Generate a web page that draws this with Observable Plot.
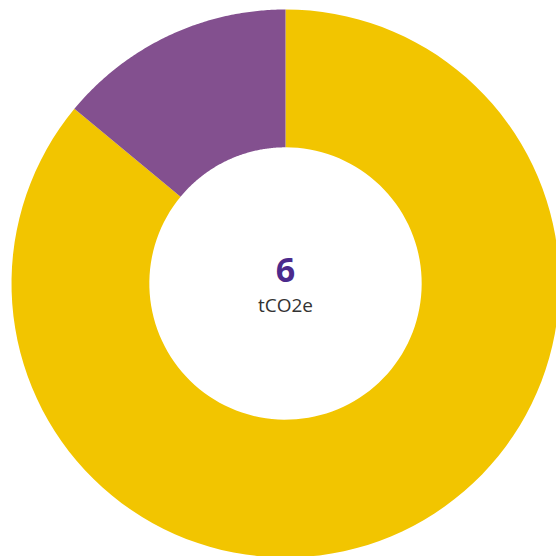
<!DOCTYPE html>
<html><head><meta charset="utf-8">
<script src="https://cdn.jsdelivr.net/npm/d3@7"></script>
<script src="https://cdn.jsdelivr.net/npm/@observablehq/plot@0.6"></script>
<style>body{margin:0;background:#fff}</style>
</head><body><div id="chart"></div>
<script>
const categories = ["Category A", "Category B"];
const values = [5.16, 0.84];
const colors = ["#F2C500", "#83508F"];
const totalLabel = "6";
const unitLabel = "tCO2e";

const inner = 0.497, outer = 1;
const pie = d3.pie().sort(null).value(d => d.value)(categories.map((c, i) => ({cat: c, value: values[i]})));
const pts = [];
pie.forEach(p => {
  const n = 120;
  const a0 = p.startAngle, a1 = p.endAngle;
  for (let k = 0; k <= n; k++) { const a = a0 + (a1 - a0) * k / n; pts.push({cat: p.data.cat, x: outer * Math.sin(a), y: outer * Math.cos(a)}); }
  for (let k = n; k >= 0; k--) { const a = a0 + (a1 - a0) * k / n; pts.push({cat: p.data.cat, x: inner * Math.sin(a), y: inner * Math.cos(a)}); }
});

const R = 274, cx = 285, cy = 283, W = 556;
const chart = Plot.plot({
  width: W, height: W, margin: 0,
  x: {domain: [-cx / R, (W - cx) / R], axis: null},
  y: {domain: [-(W - cy) / R, cy / R], axis: null},
  color: {domain: categories, range: colors},
  marks: [
    Plot.line(pts, {x: "x", y: "y", z: "cat", fill: "cat", stroke: "none", curve: "linear"}),
    Plot.text([totalLabel], {x: 0, y: 0.045, text: d => d, fontSize: 34, fontWeight: "bold", fill: "#4B2A8C", fontFamily: "Open Sans"}),
    Plot.text([unitLabel], {x: 0, y: -0.08, text: d => d, fontSize: 19, fill: "#333", fontFamily: "Open Sans"})
  ]
});
document.getElementById("chart").appendChild(chart);
</script></body></html>
